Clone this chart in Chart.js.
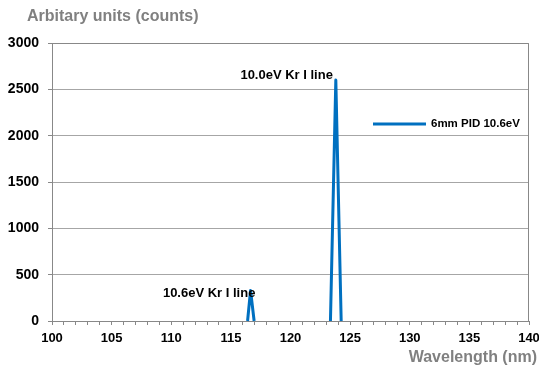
<!DOCTYPE html>
<html>
<head>
<meta charset="utf-8">
<script src="https://cdn.jsdelivr.net/npm/chart.js@4.4.0/dist/chart.umd.min.js"></script>
<style>
    html, body { margin: 0; padding: 0; background: #fff; }
    #wrap { width: 539px; height: 369px; }
</style>
</head>
<body>
<div id="wrap"><canvas id="canvas"></canvas></div>
<script>
// spectrum values (null breaks the line between the two peaks)
var wavelengths = [116.4, 116.65, 116.95, null, 123.35, 123.8, 124.25];
var counts = [0, 330, 0, null, 0, 2600, 0];
var seriesLabel = '6mm PID 10.6eV';

// peak annotations, anchored in data units (left edge, middle of text)
var noteTexts = ['10.6eV Kr I line', '10.0eV Kr I line'];
var noteX = [109.3, 115.8];
var noteY = [300, 2645];

var xMin = 100, xMax = 140, xLabelStep = 5;
var yMin = 0, yMax = 3000, yStep = 500;

document.addEventListener('DOMContentLoaded', function () {
    var canvas = document.getElementById('canvas');

    var points = [];
    for (var i = 0; i < wavelengths.length; i++) {
        if (wavelengths[i] === null) {
            points.push({ x: NaN, y: NaN });
        } else {
            points.push({ x: wavelengths[i], y: counts[i] });
        }
    }

    // frame, titles, in-plot legend and peak notes
    var extras = {
        id: 'extras',
        afterDraw: function (chart) {
            var ctx = chart.ctx;
            var area = chart.chartArea;
            var xs = chart.scales.x, ys = chart.scales.y;
            ctx.save();

            ctx.strokeStyle = '#888888';
            ctx.lineWidth = 1;
            ctx.beginPath();
            ctx.moveTo(area.left, area.top + 0.5);
            ctx.lineTo(area.right - 0.5, area.top + 0.5);
            ctx.lineTo(area.right - 0.5, area.bottom);
            ctx.stroke();

            ctx.fillStyle = '#808080';
            ctx.font = 'bold 16px "Liberation Sans", Arial, sans-serif';
            ctx.textBaseline = 'middle';
            ctx.textAlign = 'left';
            ctx.fillText('Arbitary units (counts)', 27, 17);
            ctx.textAlign = 'right';
            ctx.fillText('Wavelength (nm)', 537, 358);

            ctx.fillStyle = '#000000';
            ctx.font = 'bold 13px "Liberation Sans", Arial, sans-serif';
            ctx.textAlign = 'left';
            for (var i = 0; i < noteTexts.length; i++) {
                ctx.fillText(noteTexts[i], xs.getPixelForValue(noteX[i]), ys.getPixelForValue(noteY[i]));
            }

            var ds = chart.data.datasets[0];
            ctx.strokeStyle = ds.borderColor;
            ctx.lineWidth = 3;
            ctx.beginPath();
            ctx.moveTo(373, 124);
            ctx.lineTo(426, 124);
            ctx.stroke();
            ctx.font = 'bold 11.5px "Liberation Sans", Arial, sans-serif';
            ctx.fillText(ds.label, 431, 124);

            ctx.restore();
        }
    };

    var xTickFont = { family: '"Liberation Sans", Arial, sans-serif', size: 13, weight: 'bold' };
    var yTickFont = { family: '"Liberation Sans", Arial, sans-serif', size: 14, weight: 'bold' };

    var config = {
        type: 'scatter',
        data: {
            datasets: [
                {
                    label: seriesLabel,
                    data: points,
                    showLine: true,
                    spanGaps: false,
                    borderColor: '#0070C0',
                    borderWidth: 3,
                    borderJoinStyle: 'round',
                    pointRadius: 0,
                    tension: 0,
                    clip: 4
                }
            ]
        },
        options: {
            responsive: true,
            maintainAspectRatio: false,
            animation: false,
            layout: {
                padding: { top: 43, right: 10, left: 0, bottom: 0 }
            },
            plugins: {
                legend: { display: false },
                tooltip: { enabled: false }
            },
            scales: {
                x: {
                    type: 'linear',
                    min: xMin,
                    max: xMax,
                    afterFit: function (scale) {
                        scale.height = 48;
                        scale.paddingLeft = 0;
                        scale.paddingRight = 0;
                    },
                    grid: {
                        drawOnChartArea: false,
                        drawTicks: true,
                        tickLength: 4,
                        color: '#888888'
                    },
                    border: { color: '#888888' },
                    ticks: {
                        stepSize: 1,
                        autoSkip: false,
                        maxRotation: 0,
                        padding: 6,
                        color: '#000000',
                        font: xTickFont,
                        callback: function (value) {
                            return value % xLabelStep === 0 ? String(value) : '';
                        }
                    }
                },
                y: {
                    min: yMin,
                    max: yMax,
                    afterFit: function (scale) { scale.width = 52; },
                    grid: {
                        color: '#A6A6A6',
                        tickLength: 4,
                        tickColor: '#888888'
                    },
                    border: { color: '#888888' },
                    ticks: {
                        stepSize: yStep,
                        padding: 9,
                        color: '#000000',
                        font: yTickFont,
                        callback: function (value) { return String(value); }
                    }
                }
            }
        },
        plugins: [extras]
    };

    window.chart = new Chart(canvas, config);
});
</script>
</body>
</html>
